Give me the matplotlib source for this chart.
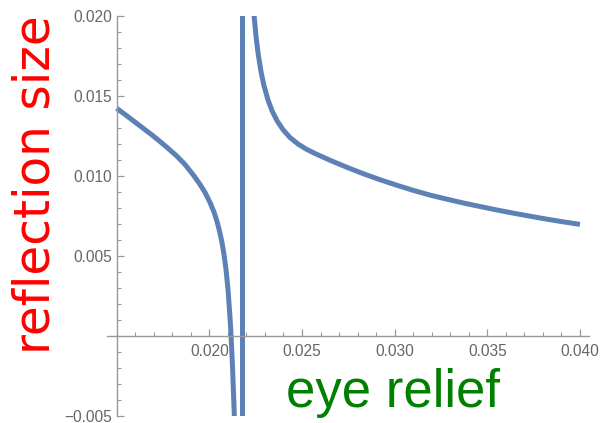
import matplotlib
matplotlib.use("Agg")
import matplotlib.pyplot as plt
from matplotlib.ticker import FixedLocator, MultipleLocator, NullFormatter

# Left branch (below the pole), right branch (above the pole) and the pole position
left_x = [0.015000, 0.015448, 0.015988, 0.016436, 0.016905, 0.017337, 0.017769,
          0.018238, 0.018686, 0.019134, 0.019496, 0.019765, 0.020035, 0.020251,
          0.020413, 0.020575, 0.020683, 0.020791, 0.020899, 0.021007, 0.021115,
          0.021169, 0.021249, 0.021346, 0.021384]
left_y = [0.014213, 0.013825, 0.013353, 0.012956, 0.012544, 0.012138, 0.011713,
          0.011231, 0.010700, 0.010044, 0.009456, 0.008956, 0.008325, 0.007725,
          0.007144, 0.006413, 0.005813, 0.005075, 0.004138, 0.002888, 0.001138,
          0.000075, -0.001894, -0.004931, -0.006331]
right_x = [0.022410, 0.022518, 0.022626, 0.022788, 0.022950, 0.023166, 0.023382,
           0.023652, 0.023976, 0.024352, 0.024784, 0.025216, 0.025701, 0.026511,
           0.027375, 0.028292, 0.029209, 0.030127, 0.030990, 0.031908, 0.032825,
           0.033688, 0.034606, 0.035523, 0.036387, 0.037304, 0.038222, 0.039085,
           0.040000]
right_y = [0.020044, 0.018719, 0.017681, 0.016500, 0.015616, 0.014731, 0.014063,
           0.013438, 0.012875, 0.012388, 0.011981, 0.011669, 0.011388, 0.010966,
           0.010547, 0.010131, 0.009750, 0.009400, 0.009088, 0.008788, 0.008531,
           0.008300, 0.008075, 0.007856, 0.007663, 0.007469, 0.007281, 0.007119,
           0.006956]
pole_x = 0.02175

x_major = [0.020, 0.025, 0.030, 0.035, 0.040]
x_labels = ["0.020", "0.025", "0.030", "0.035", "0.040"]
y_major = [-0.005, 0.005, 0.010, 0.015, 0.020]
y_labels = ["\u22120.005", "0.005", "0.010", "0.015", "0.020"]

xlabel_text = "eye relief"
ylabel_text = "reflection size"

W, H = 601, 423
fig = plt.figure(figsize=(W / 100, H / 100), dpi=100)
ax = fig.add_axes([106.7 / W, (H - 415.7) / H, (589.2 - 106.7) / W, 400 / H])

line_color = "#5E81B5"
lw = 3.6
ax.plot(left_x, left_y, color=line_color, lw=lw, solid_capstyle="butt",
        solid_joinstyle="round")
ax.axvline(pole_x, color=line_color, lw=lw)
ax.plot(right_x, right_y, color=line_color, lw=lw, solid_capstyle="butt",
        solid_joinstyle="round")

ax.set_xlim(0.01446, 0.0405)
ax.set_ylim(-0.005, 0.020)

axis_color = "#999999"
label_color = "#666666"
for side in ("top", "right"):
    ax.spines[side].set_visible(False)
ax.spines["left"].set_position(("data", 0.015))
ax.spines["bottom"].set_position(("data", 0.0))
for side in ("left", "bottom"):
    ax.spines[side].set_color(axis_color)
    ax.spines[side].set_linewidth(1.0)

ax.xaxis.set_major_locator(FixedLocator(x_major))
ax.set_xticklabels(x_labels)
ax.xaxis.set_minor_locator(MultipleLocator(0.001))
ax.yaxis.set_major_locator(FixedLocator(y_major))
ax.set_yticklabels(y_labels)
ax.yaxis.set_minor_locator(MultipleLocator(0.001))
ax.xaxis.set_minor_formatter(NullFormatter())
ax.yaxis.set_minor_formatter(NullFormatter())

ax.tick_params(which="major", direction="in", length=5, width=0.9,
               color=axis_color, labelcolor=label_color, labelsize=11.2)
ax.tick_params(which="minor", direction="in", length=3, width=0.8,
               color=axis_color)
ax.tick_params(axis="x", which="major", pad=6.2)
ax.tick_params(axis="y", which="major", pad=3.2)
for lab in ax.get_xticklabels() + ax.get_yticklabels():
    lab.set_fontfamily("Liberation Sans")

ax.patch.set_visible(False)

fig.text(393.5 / W, (H - 407) / H, xlabel_text, color="#008000",
         fontsize=38, family="Liberation Sans", ha="center", va="baseline")
fig.text(50 / W, (H - 185) / H, ylabel_text, color="#FF0000",
         fontsize=35, family="DejaVu Sans", rotation=90,
         rotation_mode="anchor", ha="center", va="baseline")

fig.savefig("out.png", dpi=100)
